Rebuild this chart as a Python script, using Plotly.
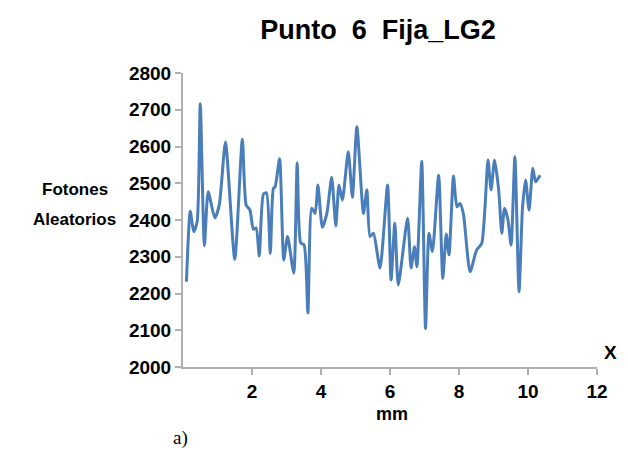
import plotly.graph_objects as go

# Position along the sample (mm) and random photon counts
mm = [0.10, 0.21, 0.31, 0.41, 0.50, 0.62, 0.73, 0.92, 1.05, 1.23,
      1.50, 1.72, 1.83, 1.94, 2.04, 2.12, 2.21, 2.33, 2.42, 2.53,
      2.62, 2.67, 2.80, 2.92, 3.03, 3.21, 3.31, 3.41, 3.51, 3.62,
      3.73, 3.83, 3.91, 4.04, 4.17, 4.31, 4.43, 4.52, 4.62, 4.79,
      4.91, 5.04, 5.23, 5.33, 5.42, 5.52, 5.71, 5.93, 6.03, 6.14,
      6.24, 6.51, 6.61, 6.71, 6.78, 6.92, 7.03, 7.13, 7.23, 7.41,
      7.53, 7.63, 7.71, 7.84, 7.94, 8.03, 8.13, 8.32, 8.51, 8.66,
      8.84, 8.93, 9.03, 9.15, 9.24, 9.32, 9.42, 9.51, 9.62, 9.74,
      9.84, 9.93, 10.03, 10.14, 10.22, 10.35]
fotones = [2232, 2424, 2368, 2395, 2716, 2330, 2477, 2406, 2440, 2612,
           2293, 2620, 2441, 2427, 2375, 2378, 2302, 2470, 2474, 2309,
           2486, 2490, 2567, 2291, 2355, 2256, 2555, 2338, 2332, 2147,
           2432, 2418, 2495, 2380, 2418, 2516, 2384, 2495, 2454, 2586,
           2462, 2654, 2418, 2482, 2355, 2364, 2269, 2495, 2237, 2391,
           2223, 2405, 2269, 2327, 2273, 2559, 2105, 2364, 2314, 2522,
           2241, 2362, 2305, 2520, 2436, 2445, 2415, 2259, 2318, 2337,
           2563, 2482, 2563, 2482, 2364, 2432, 2400, 2332, 2572, 2205,
           2432, 2509, 2427, 2541, 2504, 2522]

x_ticks = [2, 4, 6, 8, 10, 12]
y_ticks = [2000, 2100, 2200, 2300, 2400, 2500, 2600, 2700, 2800]

bold = dict(family="Liberation Sans", size=19, color="black")

fig = go.Figure()
fig.add_trace(go.Scatter(
    x=mm, y=fotones, mode="lines",
    line=dict(color="#4a7ebb", width=3, shape="spline", smoothing=0.6),
    hoverinfo="skip", showlegend=False,
))

fig.update_layout(
    width=628, height=461,
    margin=dict(l=183, r=31, t=73, b=94),
    paper_bgcolor="white", plot_bgcolor="white",
    title=dict(text="<b>Punto  6  Fija_LG2</b>", x=0.602, xanchor="center",
               y=0.935, yanchor="middle",
               font=dict(family="Liberation Sans", size=27, color="black")),
    xaxis=dict(range=[0, 12], tickvals=x_ticks,
               ticktext=[f"<b>{v}</b>" for v in x_ticks],
               showgrid=False, zeroline=False, showline=True,
               linecolor="#b0b0b0", linewidth=2,
               ticks="outside", ticklen=6, tickcolor="#b0b0b0", tickwidth=2,
               tickfont=bold),
    yaxis=dict(range=[2000, 2800], tickvals=y_ticks,
               ticktext=[f"<b>{v}</b>" for v in y_ticks],
               showgrid=False, zeroline=False, showline=True,
               linecolor="#b0b0b0", linewidth=2,
               ticks="outside", ticklen=6, tickcolor="#b0b0b0", tickwidth=2,
               tickfont=bold),
)

label_font = dict(family="Liberation Sans", size=17, color="black")
fig.add_annotation(text="<b>Fotones</b>", xref="paper", yref="paper",
                   x=-0.262, y=0.605, xanchor="center", yanchor="middle",
                   showarrow=False, font=label_font)
fig.add_annotation(text="<b>Aleatorios</b>", xref="paper", yref="paper",
                   x=-0.262, y=0.503, xanchor="center", yanchor="middle",
                   showarrow=False, font=label_font)
fig.add_annotation(text="<b>X</b>", xref="paper", yref="paper",
                   x=1.032, y=0.05, xanchor="center", yanchor="middle",
                   showarrow=False,
                   font=dict(family="Liberation Sans", size=19, color="black"))
fig.add_annotation(text="<b>mm</b>", xref="paper", yref="paper",
                   x=0.505, y=-0.16, xanchor="center", yanchor="middle",
                   showarrow=False,
                   font=dict(family="Liberation Sans", size=18, color="black"))
fig.add_annotation(text="a)", xref="paper", yref="paper",
                   x=-0.005, y=-0.24, xanchor="center", yanchor="middle",
                   showarrow=False,
                   font=dict(family="Liberation Serif", size=19, color="black"))

fig.write_html("out.html")
